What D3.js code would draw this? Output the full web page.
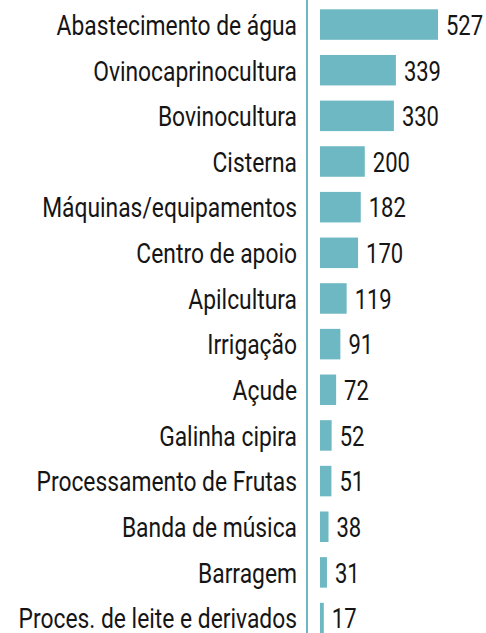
<!DOCTYPE html>
<html lang="pt">
<head>
<meta charset="UTF-8">
<script src="https://d3js.org/d3.v7.min.js"></script>
<style>
  body { margin: 0; background: #fff; }
  text { font-family: Roboto, "DejaVu Sans Condensed", sans-serif; fill: #151515; }
</style>
</head>
<body>
<div id="chart"></div>
<script>
// Dados
const categorias = [
  "Abastecimento de água", "Ovinocaprinocultura", "Bovinocultura", "Cisterna",
  "Máquinas/equipamentos", "Centro de apoio", "Apilcultura", "Irrigação",
  "Açude", "Galinha cipira", "Processamento de Frutas", "Banda de música",
  "Barragem", "Proces. de leite e derivados"
];
const valores = [527, 339, 330, 200, 182, 170, 119, 91, 72, 52, 51, 38, 31, 17];

const width = 486, height = 633;
const axisX = 307, barX = 320;
const teal = "#6db8c3";
const sx = 0.83; // compressão horizontal da fonte

const svg = d3.select("#chart").append("svg")
  .attr("width", width).attr("height", height);

const x = d3.scaleLinear().domain([0, 527]).range([barX, 438]);
const y = d3.scaleBand().domain(categorias).range([9.3, 633.3]).paddingInner(0.332).paddingOuter(0);

svg.selectAll("rect.bar")
  .data(valores)
  .enter().append("rect")
  .attr("class", "bar")
  .attr("x", x(0))
  .attr("y", (d, i) => y(categorias[i]))
  .attr("width", d => x(d) - x(0))
  .attr("height", y.bandwidth())
  .attr("fill", teal);

// linha vertical
svg.append("line")
  .attr("x1", axisX).attr("x2", axisX)
  .attr("y1", 0).attr("y2", height)
  .attr("stroke", teal).attr("stroke-width", 2);

// rótulos das categorias
svg.selectAll("text.cat")
  .data(categorias)
  .enter().append("text")
  .attr("class", "cat")
  .attr("transform", d => `translate(297,${y(d) + y.bandwidth() / 2 + 10.3}) scale(${sx},1)`)
  .attr("text-anchor", "end")
  .style("font-size", "27.5px")
  .text(d => d);

// valores
svg.selectAll("text.val")
  .data(valores)
  .enter().append("text")
  .attr("class", "val")
  .attr("transform", (d, i) => `translate(${x(d) + 8},${y(categorias[i]) + y.bandwidth() / 2 + 10.3}) scale(0.8,1)`)
  .style("font-size", "27.5px")
  .text(d => d);
</script>
</body>
</html>
